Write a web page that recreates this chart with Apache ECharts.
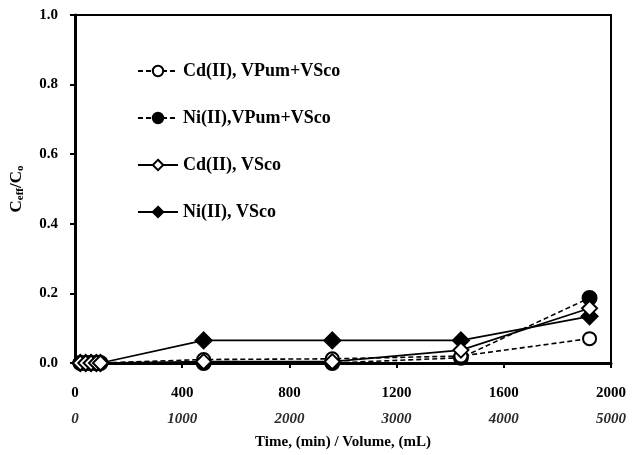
<!DOCTYPE html>
<html><head><meta charset="utf-8">
<script src="https://cdn.jsdelivr.net/npm/echarts@6/dist/echarts.min.js"></script>
<style>html,body{margin:0;padding:0;background:#fff}#c{width:635px;height:455px}</style>
</head><body><div id="c"></div>
<script>
var times = [20, 40, 60, 80, 95, 480, 960, 1440, 1920];
var cdMix = [0, 0, 0, 0, 0, 0.01, 0.012, 0.02, 0.07];
var niMix = [0, 0, 0, 0, 0, 0.0, 0.0, 0.015, 0.187];
var cdVsco = [0, 0, 0, 0, 0, 0.004, 0.004, 0.037, 0.157];
var niVsco = [0, 0, 0, 0, 0, 0.065, 0.065, 0.065, 0.134];
var names = ['Cd(II), VPum+VSco', 'Ni(II),VPum+VSco', 'Cd(II), VSco', 'Ni(II), VSco'];
var xTicks1 = [0, 400, 800, 1200, 1600, 2000];
var xTicks2 = [0, 1000, 2000, 3000, 4000, 5000];
var yTicks = [0, 0.2, 0.4, 0.6, 0.8, 1.0];

function pairs(v){ return times.map(function(t,i){return [t, v[i]];}); }
var font = 'Liberation Serif';
var chart = echarts.init(document.getElementById('c'));
function mk(name, data, symbol, filled, dashed, size){
  return {
    name: name, type: 'line', data: pairs(data), xAxisIndex: 0,
    symbol: symbol, symbolSize: size,
    itemStyle: {color: filled ? '#000' : '#fff', borderColor: '#000', borderWidth: 2},
    lineStyle: {color: '#000', width: 1.6, type: dashed ? [5,3] : 'solid'},
    z: filled ? 3 : 4
  };
}
chart.setOption({
  animation: false,
  backgroundColor: '#fff',
  grid: {left: 75, right: 24, top: 15, bottom: 88, show: true, borderColor: '#000', borderWidth: 2, backgroundColor: 'transparent'},
  legend: {
    orient: 'vertical', left: 137, top: 62, padding: 0, itemGap: 29, itemWidth: 40, itemHeight: 13,
    data: names,
    textStyle: {fontFamily: font, fontWeight: 'bold', fontSize: 18, color: '#000'}
  },
  xAxis: [{
    type: 'value', min: 0, max: 2000, interval: 400, position: 'bottom',
    axisLine: {show: true, onZero: false, lineStyle: {color: '#000', width: 3}},
    axisTick: {show: true, length: 5, lineStyle: {color: '#000', width: 2}},
    axisLabel: {fontFamily: font, fontWeight: 'bold', fontSize: 15, color: '#000', margin: 23,
      formatter: function(v){ return xTicks1.indexOf(v) >= 0 ? String(v) : ''; }},
    splitLine: {show: false},
    name: 'Time, (min) / Volume, (mL)', nameLocation: 'middle', nameGap: 72,
    nameTextStyle: {fontFamily: font, fontWeight: 'bold', fontSize: 15, color: '#000'}
  }, {
    type: 'value', min: 0, max: 5000, interval: 1000, position: 'bottom', offset: 28,
    axisLine: {show: false}, axisTick: {show: false}, splitLine: {show: false},
    axisLabel: {fontFamily: font, fontWeight: 'bold', fontStyle: 'italic', fontSize: 15, color: '#2a2a2a', margin: 21,
      formatter: function(v){ return xTicks2.indexOf(v) >= 0 ? String(v) : ''; }}
  }],
  yAxis: {
    type: 'value', min: 0, max: 1.0, interval: 0.2,
    axisLine: {show: true, lineStyle: {color: '#000', width: 3}},
    axisTick: {show: true, length: 5, lineStyle: {color: '#000', width: 2}},
    axisLabel: {fontFamily: font, fontWeight: 'bold', fontSize: 15, color: '#000', margin: 17,
      formatter: function(v){ return yTicks.some(function(t){return Math.abs(t-v)<1e-9;}) ? v.toFixed(1) : ''; }},
    splitLine: {show: false},
    name: '{m|C}{s|eff}{m|/C}{s|o}', nameLocation: 'middle', nameGap: 49, nameRotate: 90,
    nameTextStyle: {rich: {
      m: {fontFamily: font, fontWeight: 'bold', fontSize: 17, color: '#000'},
      s: {fontFamily: font, fontWeight: 'bold', fontSize: 11, color: '#000', verticalAlign: 'bottom', padding: [7,0,0,0]}
    }}
  },
  series: [
    mk(names[0], cdMix, 'circle', false, true, 13),
    mk(names[1], niMix, 'circle', true, true, 14),
    mk(names[2], cdVsco, 'diamond', false, false, 15),
    mk(names[3], niVsco, 'diamond', true, false, 16)
  ]
});
</script></body></html>
